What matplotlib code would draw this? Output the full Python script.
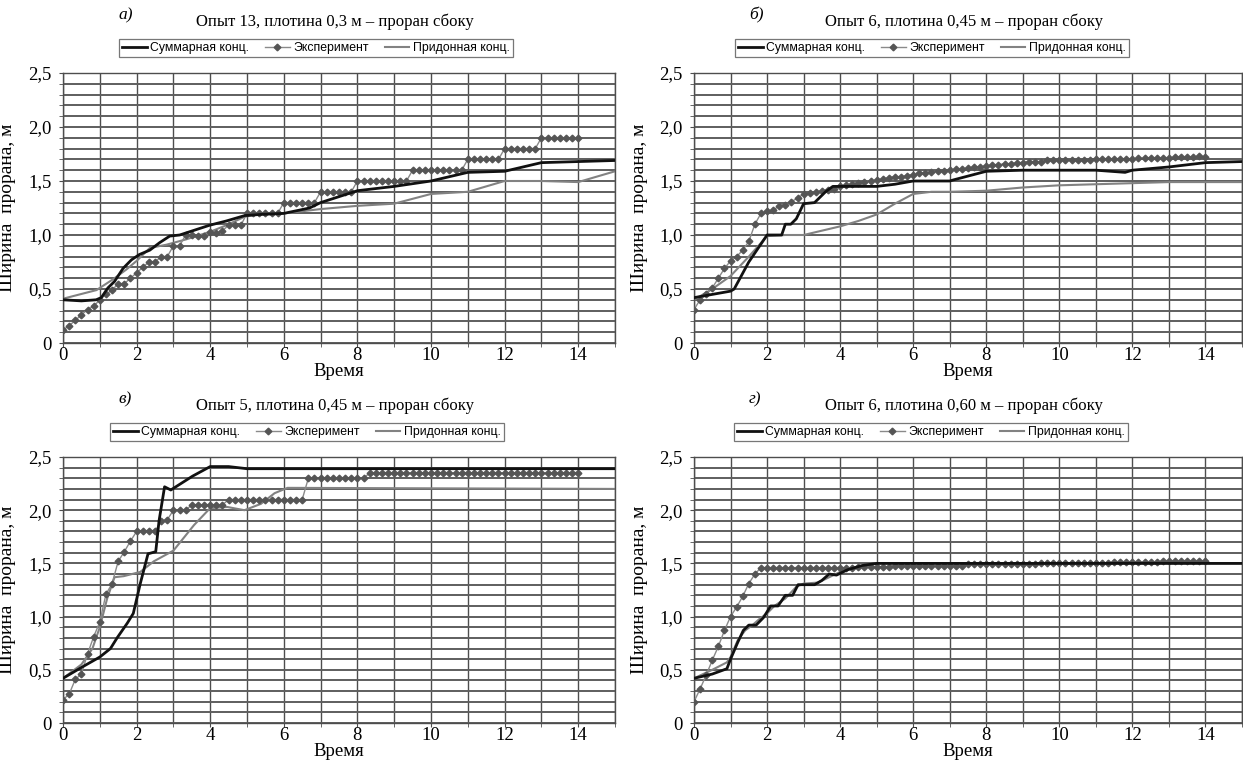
import numpy as np
import matplotlib
matplotlib.use("Agg")
import matplotlib.pyplot as plt
from matplotlib.ticker import MultipleLocator, FixedLocator

plt.rcParams['font.family'] = ['Liberation Serif', 'DejaVu Serif']
NARROW = ['Liberation Sans Narrow', 'Liberation Sans', 'DejaVu Sans']

# ---------------------------------------------------------------------
# data
# ---------------------------------------------------------------------
# experiment is sampled every 10 min (1/6 of a time unit), 0 .. 14
t_exp = np.arange(85) / 6.0

# a) Опыт 13, плотина 0,3 м
exp_a = [0.12, 0.16, 0.21, 0.26, 0.31, 0.34, 0.40, 0.45, 0.49, 0.55,
         0.55, 0.60, 0.65, 0.70, 0.75, 0.75, 0.80, 0.80, 0.90, 0.90,
         1.00, 1.00, 0.99, 0.99, 1.03, 1.02, 1.04, 1.09, 1.09, 1.09,
         1.20, 1.20, 1.20, 1.20, 1.20, 1.20,
         1.30, 1.30, 1.30, 1.30, 1.30, 1.30,
         1.40, 1.40, 1.40, 1.40, 1.40, 1.40,
         1.50, 1.50, 1.50, 1.50, 1.50, 1.50, 1.50, 1.50, 1.50,
         1.60, 1.60, 1.60, 1.60, 1.60, 1.60, 1.60, 1.60, 1.60,
         1.70, 1.70, 1.70, 1.70, 1.70, 1.70,
         1.80, 1.80, 1.80, 1.80, 1.80, 1.80,
         1.90, 1.90, 1.90, 1.90, 1.90, 1.90, 1.90]
t_sum_a = [0, 0.5, 0.9, 1.04, 1.22, 1.4, 1.63, 1.86, 2.08, 2.36, 2.63, 2.9,
           3.17, 3.53, 3.98, 4.44, 4.94, 5.35, 6.0, 6.7, 7.0, 8.0, 9.0, 10.0,
           11.0, 12.0, 13.0, 14.0, 15.0]
sum_a = [0.40, 0.39, 0.40, 0.42, 0.51, 0.57, 0.69, 0.77, 0.82, 0.86, 0.93, 0.99,
         1.00, 1.04, 1.09, 1.13, 1.18, 1.19, 1.20, 1.25, 1.30, 1.41, 1.45, 1.50,
         1.58, 1.59, 1.67, 1.68, 1.69]
t_bot_a = [0, 0.91, 1.36, 1.72, 2.0, 2.36, 2.81, 3.35, 4.0, 4.44, 4.94, 5.5,
           6.0, 7.0, 8.0, 9.0, 10.0, 11.0, 12.0, 13.0, 14.0, 15.0]
bot_a = [0.41, 0.49, 0.59, 0.68, 0.76, 0.88, 0.91, 0.96, 1.03, 1.09, 1.17, 1.20,
         1.20, 1.24, 1.27, 1.29, 1.38, 1.40, 1.50, 1.50, 1.49, 1.59]

# б) Опыт 6, плотина 0,45 м
exp_b = [0.31, 0.40, 0.45, 0.51, 0.60, 0.69, 0.76, 0.80, 0.86, 0.94,
         1.10, 1.20, 1.22, 1.23, 1.27, 1.28, 1.31, 1.34, 1.38, 1.39,
         1.40, 1.41, 1.42, 1.43, 1.45, 1.46, 1.47, 1.48, 1.49, 1.50,
         1.51, 1.52, 1.53, 1.54, 1.54, 1.55,
         1.56, 1.57, 1.57, 1.58, 1.59, 1.59,
         1.60, 1.61, 1.61, 1.62, 1.63, 1.63,
         1.64, 1.65, 1.65, 1.66, 1.66, 1.67,
         1.67, 1.68, 1.68, 1.68, 1.69, 1.69,
         1.69, 1.69, 1.69, 1.69, 1.69, 1.69,
         1.70, 1.70, 1.70, 1.70, 1.70, 1.70,
         1.70, 1.71, 1.71, 1.71, 1.71, 1.71,
         1.71, 1.72, 1.72, 1.72, 1.72, 1.73, 1.72]
t_sum_b = [0, 0.5, 1.0, 1.1, 1.5, 2.0, 2.4, 2.5, 2.65, 2.8, 3.0, 3.3, 3.6, 3.8,
           4.0, 5.0, 5.5, 6.0, 7.0, 7.1, 8.0, 9.0, 10.0, 11.0, 11.8, 12.0, 13.0,
           14.0, 15.0]
sum_b = [0.42, 0.45, 0.48, 0.50, 0.75, 1.00, 1.00, 1.10, 1.10, 1.15, 1.29, 1.30,
         1.40, 1.45, 1.45, 1.45, 1.47, 1.50, 1.50, 1.51, 1.59, 1.60, 1.60, 1.60,
         1.58, 1.60, 1.63, 1.67, 1.68]
t_bot_b = [0, 0.5, 1.0, 1.5, 2.0, 2.5, 3.0, 3.5, 4.0, 4.5, 5.0, 5.5, 6.0, 6.5,
           7.0, 8.0, 9.0, 10.0, 11.0, 12.0, 13.0, 14.0, 15.0]
bot_b = [0.40, 0.50, 0.62, 0.80, 0.99, 1.00, 1.00, 1.04, 1.08, 1.13, 1.19, 1.29,
         1.38, 1.40, 1.40, 1.41, 1.44, 1.46, 1.47, 1.48, 1.49, 1.49, 1.49]

# в) Опыт 5, плотина 0,45 м
exp_c = [0.22, 0.27, 0.41, 0.46, 0.65, 0.81, 0.95, 1.21, 1.31, 1.52,
         1.61, 1.71, 1.80, 1.80, 1.80, 1.80, 1.90, 1.91, 2.00, 2.00,
         2.00, 2.05, 2.05, 2.05, 2.05, 2.05, 2.05,
         2.10, 2.10, 2.10, 2.10, 2.10, 2.10, 2.10, 2.10, 2.10, 2.10,
         2.10, 2.10, 2.10,
         2.30, 2.30, 2.30, 2.30, 2.30, 2.30, 2.30, 2.30, 2.30, 2.30,
         2.35, 2.35, 2.35, 2.35, 2.35, 2.35, 2.35, 2.35, 2.35, 2.35,
         2.35, 2.35, 2.35, 2.35, 2.35, 2.35, 2.35, 2.35, 2.35, 2.35,
         2.35, 2.35, 2.35, 2.35, 2.35, 2.35, 2.35, 2.35, 2.35, 2.35,
         2.35, 2.35, 2.35, 2.35, 2.35]
t_sum_c = [0, 0.49, 1.0, 1.29, 1.47, 1.75, 1.91, 2.1, 2.31, 2.52, 2.61, 2.76,
           2.93, 3.52, 4.0, 4.5, 5.0, 15.0]
sum_c = [0.42, 0.52, 0.62, 0.70, 0.80, 0.94, 1.03, 1.31, 1.59, 1.61, 1.90, 2.22,
         2.19, 2.32, 2.41, 2.41, 2.39, 2.39]
t_bot_c = [0, 0.5, 0.8, 1.0, 1.2, 1.4, 1.65, 2.1, 2.47, 3.0, 3.56, 4.0, 4.47,
           4.93, 5.38, 5.75, 6.1, 15.0]
bot_c = [0.42, 0.55, 0.70, 0.90, 1.17, 1.37, 1.38, 1.42, 1.52, 1.62, 1.86, 2.02,
         2.03, 2.00, 2.06, 2.16, 2.21, 2.20]

# г) Опыт 6, плотина 0,60 м
exp_d = [0.20, 0.32, 0.45, 0.59, 0.72, 0.87, 1.00, 1.09, 1.19, 1.31,
         1.40, 1.46,
         1.46, 1.46, 1.46, 1.46, 1.46, 1.46, 1.46, 1.46, 1.46, 1.46,
         1.46, 1.46, 1.46, 1.46, 1.46,
         1.47, 1.47, 1.47, 1.47, 1.47, 1.47,
         1.48, 1.48, 1.48, 1.48, 1.48, 1.48, 1.48, 1.48, 1.48, 1.48, 1.48, 1.48,
         1.49, 1.49, 1.49, 1.49, 1.49, 1.49, 1.49, 1.49, 1.49, 1.49, 1.49, 1.49,
         1.50, 1.50, 1.50, 1.50, 1.50, 1.50, 1.50, 1.50, 1.50, 1.50, 1.50, 1.50,
         1.51, 1.51, 1.51, 1.51, 1.51, 1.51, 1.51, 1.51,
         1.52, 1.52, 1.52, 1.52, 1.52, 1.52, 1.52, 1.52]
t_sum_d = [0, 0.5, 0.9, 1.0, 1.2, 1.35, 1.5, 1.7, 1.9, 2.1, 2.3, 2.5, 2.7, 2.85,
           3.0, 3.3, 3.5, 3.7, 3.9, 4.2, 4.6, 5.0, 15.0]
sum_d = [0.42, 0.46, 0.51, 0.60, 0.76, 0.87, 0.92, 0.92, 0.99, 1.10, 1.10, 1.20,
         1.20, 1.30, 1.30, 1.30, 1.34, 1.40, 1.39, 1.44, 1.48, 1.50, 1.50]
t_bot_d = [0, 0.5, 0.9, 1.0, 1.2, 1.4, 1.6, 1.8, 2.0, 2.2, 2.5, 2.8, 3.0, 3.4,
           3.7, 4.0, 4.4, 5.0, 15.0]
bot_d = [0.42, 0.50, 0.57, 0.62, 0.78, 0.87, 0.92, 0.98, 1.03, 1.10, 1.17, 1.28,
         1.31, 1.32, 1.37, 1.42, 1.46, 1.50, 1.50]

titles = ["Опыт 13, плотина 0,3 м – проран сбоку",
          "Опыт 6, плотина 0,45 м – проран сбоку",
          "Опыт 5, плотина 0,45 м – проран сбоку",
          "Опыт 6, плотина 0,60 м – проран сбоку"]
letters = ["а)", "б)", "в)", "г)"]
legend_labels = ["Суммарная конц.", "Эксперимент", "Придонная конц."]
y_ticks = [0, 0.5, 1.0, 1.5, 2.0, 2.5]
y_tick_labels = ["0", "0,5", "1,0", "1,5", "2,0", "2,5"]
x_ticks = [0, 2, 4, 6, 8, 10, 12, 14]

panels = [
    (t_sum_a, sum_a, exp_a, t_bot_a, bot_a),
    (t_sum_b, sum_b, exp_b, t_bot_b, bot_b),
    (t_sum_c, sum_c, exp_c, t_bot_c, bot_c),
    (t_sum_d, sum_d, exp_d, t_bot_d, bot_d),
]

# ---------------------------------------------------------------------
# layout in pixels of the 1243x764 reference: left, right, top, bottom
# ---------------------------------------------------------------------
W, H = 1243, 764
boxes = [(63, 615, 73, 343), (694, 1242, 73, 343),
         (63, 615, 457, 723), (694, 1242, 457, 723)]
ylabel_x = [16, 648, 16, 648]
legend_cx = [316, 932, 307, 931]

fig = plt.figure(figsize=(W / 100, H / 100), dpi=100)

for k, (ts, ys, ye, tb, yb) in enumerate(panels):
    l, r, t, b = boxes[k]
    ax = fig.add_axes([l / W, 1 - b / H, (r - l) / W, (b - t) / H])

    ax.set_xlim(0, 15)
    ax.set_ylim(0, 2.5)
    ax.xaxis.set_major_locator(FixedLocator(x_ticks))
    ax.xaxis.set_minor_locator(MultipleLocator(1))
    ax.yaxis.set_major_locator(FixedLocator(y_ticks))
    ax.set_yticklabels(y_tick_labels)
    ax.yaxis.set_minor_locator(MultipleLocator(0.1))
    ax.grid(which='both', axis='x', color='#4d4d4d', lw=1.0, zorder=0)
    ax.grid(which='both', axis='y', color='#5e5e5e', lw=1.4, zorder=0)
    ax.set_axisbelow(True)
    for s in ax.spines.values():
        s.set_color('#4d4d4d')
        s.set_linewidth(1.0)
    ax.tick_params(which='both', length=3, color='#4d4d4d', labelsize=13.5)
    ax.tick_params(axis='x', pad=0)
    ax.tick_params(axis='y', pad=5)

    l_sum, = ax.plot(ts, ys, color='#111111', lw=2.0, zorder=4)
    l_exp, = ax.plot(t_exp, ye, color='#8a8a8a', lw=1.0, marker='D', ms=3.4,
                     mfc='#555555', mec='#555555', zorder=3)
    l_bot, = ax.plot(tb, yb, color='#828282', lw=1.5, zorder=2)

    ax.set_xlabel("Время", fontsize=13.5, labelpad=-1)
    ax.set_ylabel("Ширина  прорана, м", fontsize=14)
    ax.yaxis.set_label_coords((ylabel_x[k] - l) / (r - l), 0.5)

    cx = (l + r) / 2 / W
    fig.text(cx - 0.003, 1 - (t - 51) / H, titles[k], ha='center', va='center',
             fontsize=12)
    fig.text((l + 55) / W, 1 - (t - 58) / H, letters[k], ha='left', va='center',
             fontsize=12.5, style='italic')

    leg = ax.legend([l_sum, l_exp, l_bot], legend_labels, ncol=3,
                    loc='center', bbox_to_anchor=(legend_cx[k] / W, 1 - (t - 25) / H),
                    bbox_transform=fig.transFigure, frameon=True, fancybox=False,
                    prop={'family': NARROW, 'size': 8.8},
                    handlelength=2.0, handletextpad=0.3, columnspacing=1.3,
                    borderpad=0.25, borderaxespad=0)
    leg.get_frame().set_edgecolor('#555555')
    leg.get_frame().set_linewidth(0.9)

fig.savefig("out.png", dpi=100)
